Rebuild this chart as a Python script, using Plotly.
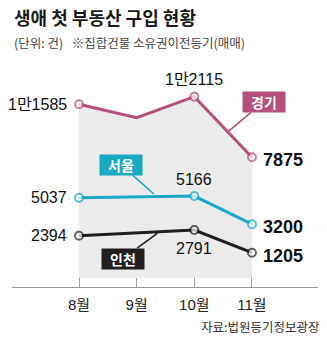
import plotly.graph_objects as go

# ---- data ----
months = ["8월", "9월", "10월", "11월"]
gyeonggi = [11585, 10650, 12115, 7875]
seoul = [5037, 5100, 5166, 3200]
incheon = [2394, 2590, 2791, 1205]
labeled = [True, False, True, True]   # months that carry a marker + value label

title_text = "생애 첫 부동산 구입 현황"
subtitle_text = "(단위: 건)\u00a0\u00a0\u00a0※집합건물 소유권이전등기(매매)"
source_text = "자료:법원등기정보광장"

PINK = "#b3507b"
CYAN = "#1ba8c3"
BLACK = "#231f20"
FILL = "#ebebeb"
AXIS = "#9a9a9a"
TXT = "#222222"
FONT = "Liberation Sans, Noto Sans CJK KR, sans-serif"
KFONT = "Noto Sans CJK KR, Liberation Sans, sans-serif"

Y_MIN, Y_MAX = -1196, 14679
FILL_BASE = -566


def fmt(v):
    return f"{v // 10000}만{v % 10000}" if v >= 10000 else f"{v}"


fig = go.Figure()

# gray area under the Gyeonggi line
fig.add_trace(go.Scatter(
    x=months + months[::-1],
    y=gyeonggi + [FILL_BASE] * len(months),
    fill="toself", fillcolor=FILL, mode="none", hoverinfo="skip",
))

for vals, col in [(gyeonggi, PINK), (seoul, CYAN), (incheon, BLACK)]:
    fig.add_trace(go.Scatter(
        x=months, y=vals, mode="lines+markers",
        line=dict(color=col, width=3),
        marker=dict(size=[8 if m else 0 for m in labeled], color="white",
                    line=dict(color=col, width=2)),
        hoverinfo="skip",
    ))

annotations = []

# value labels
def add_label(i, v, pos, bold=False):
    if pos == "left":
        kw = dict(xanchor="right", xshift=-10, yshift=0)
    elif pos == "right":
        kw = dict(xanchor="left", xshift=9, yshift=-3)
    elif pos == "above":
        kw = dict(xanchor="center", yshift=17)
    else:
        kw = dict(xanchor="center", yshift=-19)
    txt = f"<b>{fmt(v)}</b>" if bold else fmt(v)
    annotations.append(dict(
        x=months[i], y=v, text=txt, showarrow=False, yanchor="middle",
        font=dict(family=FONT, size=18 if bold else 16, color="#111111"), **kw))

for vals, mid in [(gyeonggi, "above"), (seoul, "above"), (incheon, "below")]:
    add_label(0, vals[0], "left")
    add_label(2, vals[2], mid)
    add_label(3, vals[3], "right", bold=True)

# series name boxes with callout lines
def callout(name, vals, t, ax, ay, col, standoff):
    i0 = int(t)
    f = t - i0
    yv = vals[i0] + f * (vals[i0 + 1] - vals[i0])
    annotations.append(dict(
        x=t, y=yv, xref="x", yref="y", text=f"<b>{name}</b>",
        showarrow=True, arrowhead=0, arrowwidth=1.5, arrowcolor=col,
        ax=ax, ay=ay, standoff=standoff, bgcolor=col, borderpad=0,
        width=42, height=20,
        font=dict(family=KFONT, size=14, color="white"),
    ))

callout("경기", gyeonggi, 2.58, 36, -30, PINK, 0)
callout("서울", seoul, 1.35, -36, -32, CYAN, 4)
callout("인천", incheon, 1.40, -37, 27, BLACK, 3)

# title / subtitle / source
annotations.append(dict(x=0, y=1.19, xref="paper", yref="paper", xanchor="left",
                        yanchor="middle", showarrow=False, text=f"<b>{title_text}</b>",
                        font=dict(family=KFONT, size=18, color="#1a1a1a")))
annotations.append(dict(x=0, y=1.075, xref="paper", yref="paper", xanchor="left",
                        yanchor="middle", showarrow=False, text=subtitle_text,
                        font=dict(family=KFONT, size=12.5, color="#444444")))
annotations.append(dict(x=1.013, y=-0.176, xref="paper", yref="paper", xanchor="right",
                        yanchor="middle", showarrow=False, text=source_text,
                        font=dict(family=KFONT, size=12.5, color="#333333")))

fig.update_layout(
    width=327, height=338,
    margin=dict(l=12, r=9, t=60, b=51),
    paper_bgcolor="white", plot_bgcolor="white",
    showlegend=False,
    annotations=annotations,
    xaxis=dict(type="category", categoryorder="array", categoryarray=months,
               range=[-1.162, 4.145], showgrid=False, zeroline=False,
               showline=True, linecolor=AXIS, linewidth=1,
               ticks="inside", ticklen=9, tickcolor=AXIS, tickwidth=1,
               ticklabelstandoff=4,
               tickfont=dict(family=FONT, size=15, color=TXT),
               fixedrange=True),
    yaxis=dict(range=[Y_MIN, Y_MAX], visible=False, fixedrange=True),
)

fig.write_html("out.html", config={"displayModeBar": False})
